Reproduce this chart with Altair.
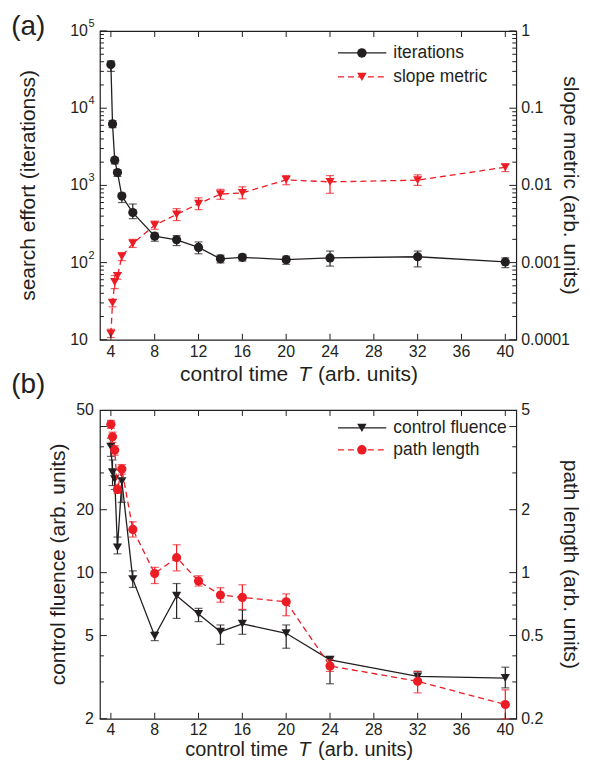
import altair as alt
import pandas as pd

FONT = "Liberation Sans"
INK = "#231f20"
RED = "#ec1c24"
W, H = 418, 310

# ---------------- data ----------------
T = [4, 4.15, 4.35, 4.6, 5, 6, 8, 10, 12, 14, 16, 20, 24, 32, 40]

# panel (a)
iterations = [36800, 6250, 2120, 1470, 728, 444, 220, 197, 157, 112, 117, 109, 115, 119, 102]
iterations_lo = [30000, 5600, 1900, 1306, 600, 371, 189, 166, 130, 99, 105, 95, 90, 88, 86]
iterations_hi = [41000, 6900, 2300, 1580, 790, 574, 242, 224, 185, 125, 128, 121, 141, 141, 115]

slope = [1.2e-4, 3.0e-4, 5.6e-4, 6.7e-4, 1.2e-3, 1.77e-3, 3.05e-3, 4.2e-3, 5.8e-3, 7.7e-3, 8.0e-3,
         0.0118, 0.0111, 0.0117, 0.0172]
slope_lo = [1.07e-4, 2.67e-4, 4.6e-4, 6.1e-4, 1.06e-3, 1.57e-3, 2.7e-3, 3.5e-3, 4.85e-3, 6.6e-3, 6.7e-3,
            0.0102, 0.0079, 0.0100, 0.0151]
slope_hi = [1.37e-4, 3.35e-4, 6.8e-4, 7.4e-4, 1.35e-3, 2.0e-3, 3.45e-3, 5.0e-3, 6.9e-3, 8.9e-3, 9.6e-3,
            0.0134, 0.0134, 0.0137, 0.0188]

# panel (b)
fluence = [40, 30.2, 28, 13.2, 27.4, 9.31, 4.98, 7.75, 6.34, 5.22, 5.69, 5.13, 3.83, 3.19, 3.13]
fluence_lo = [36, 26.1, 25, 12.3, 21.7, 8.5, 4.73, 6.04, 5.83, 4.54, 5.07, 4.35, 2.94, 3.07, 2.81]
fluence_hi = [44, 34.6, 31, 14.8, 31, 10.2, 5.2, 8.87, 6.75, 5.62, 6.62, 5.62, 3.97, 3.37, 3.53]

path = [5.13, 4.47, 3.86, 2.50, 3.13, 1.61, 0.99, 1.18, 0.911, 0.782, 0.761, 0.726, 0.358, 0.302, 0.234]
path_lo = [4.9, 4.2, 3.65, 2.4, 2.96, 1.48, 0.887, 1.02, 0.863, 0.722, 0.667, 0.622, 0.337, 0.266, 0.2]
path_hi = [5.35, 4.7, 4.05, 2.6, 3.29, 1.75, 1.06, 1.36, 0.966, 0.847, 0.875, 0.791, 0.383, 0.337, 0.275]

# axes
X_DOMAIN = [3, 41]
X_TICKS = [4, 8, 12, 16, 20, 24, 28, 32, 36, 40]
X_LABELS = ["4", "8", "12", "16", "20", "24", "28", "32", "36", "40"]

A_LEFT_DOMAIN = [10, 100000]
A_LEFT_MAJOR = [10, 100, 1000, 10000, 100000]
A_LEFT_LABELS = ["10", "10", "10", "10", "10"]
A_LEFT_EXPONENTS = ["", "2", "3", "4", "5"]
A_LEFT_MINOR = [20, 30, 40, 50, 60, 70, 80, 90, 200, 300, 400, 500, 600, 700, 800, 900,
                2000, 3000, 4000, 5000, 6000, 7000, 8000, 9000,
                20000, 30000, 40000, 50000, 60000, 70000, 80000, 90000]

A_RIGHT_DOMAIN = [0.0001, 1]
A_RIGHT_MAJOR = [0.0001, 0.001, 0.01, 0.1, 1]
A_RIGHT_LABELS = ["0.0001", "0.001", "0.01", "0.1", "1"]
A_RIGHT_MINOR = [0.0002, 0.0003, 0.0004, 0.0005, 0.0006, 0.0007, 0.0008, 0.0009,
                 0.002, 0.003, 0.004, 0.005, 0.006, 0.007, 0.008, 0.009,
                 0.02, 0.03, 0.04, 0.05, 0.06, 0.07, 0.08, 0.09,
                 0.2, 0.3, 0.4, 0.5, 0.6, 0.7, 0.8, 0.9]

B_LEFT_DOMAIN = [2, 60]
B_LEFT_MAJOR = [2, 5, 10, 20, 50]
B_LEFT_LABELS = ["2", "5", "10", "20", "50"]
B_LEFT_MINOR = [3, 4, 6, 7, 8, 9, 30, 40]

B_RIGHT_DOMAIN = [0.2, 6]
B_RIGHT_MAJOR = [0.2, 0.5, 1, 2, 5]
B_RIGHT_LABELS = ["0.2", "0.5", "1", "2", "5"]
B_RIGHT_MINOR = [0.3, 0.4, 0.6, 0.7, 0.8, 0.9, 3, 4]

xscale = alt.Scale(domain=X_DOMAIN, nice=False, zero=False)
XN = alt.X("T:Q", scale=xscale, axis=None)


def series_group(v, lo, hi, color, shape, dashed, domain, major, labels, minor, side,
                 raised=None, exponents=None):
    df = pd.DataFrame({"T": T, "v": v, "lo": lo, "hi": hi})
    ys = alt.Scale(type="log", domain=domain, nice=False)
    Y = lambda f: alt.Y(f, scale=ys, axis=None)
    base = alt.Chart(df)
    rule = base.mark_rule(color=color, strokeWidth=1.2).encode(x=XN, y=Y("lo:Q"), y2="hi:Q")
    cap_lo = base.mark_tick(orient="horizontal", size=8, thickness=1.2, color=color).encode(
        x=XN, y=Y("lo:Q"))
    cap_hi = base.mark_tick(orient="horizontal", size=8, thickness=1.2, color=color).encode(
        x=XN, y=Y("hi:Q"))
    line_kw = dict(color=color, strokeWidth=1.3)
    if dashed:
        line_kw["strokeDash"] = [6, 4]
    line = base.mark_line(**line_kw).encode(x=XN, y=Y("v:Q"))
    pts = base.mark_point(filled=True, shape=shape, size=85, color=color, opacity=1).encode(
        x=XN, y=Y("v:Q"))
    x0 = 0 if side == "left" else W
    d = 1 if side == "left" else -1
    maj = alt.Chart(pd.DataFrame({"v": major})).mark_rule(color=INK, strokeWidth=1).encode(
        y=Y("v:Q"), x=alt.value(x0), x2=alt.value(x0 + d * 7))
    mnr = alt.Chart(pd.DataFrame({"v": minor})).mark_rule(color=INK, strokeWidth=1).encode(
        y=Y("v:Q"), x=alt.value(x0), x2=alt.value(x0 + d * 4))
    layers = [rule, cap_lo, cap_hi, line, pts, maj, mnr]
    # tick labels
    lab_df = pd.DataFrame({"v": major, "lab": labels,
                           "ex": exponents if exponents is not None else [""] * len(major)})
    lab_kw = dict(font=FONT, fontSize=16, color=INK, baseline="middle",
                  align="right" if side == "left" else "left")
    if side == "left":
        lx = -12 if exponents is not None else -6
    else:
        lx = W + 5
    if raised is None:
        layers.append(alt.Chart(lab_df).mark_text(**lab_kw).encode(
            y=Y("v:Q"), x=alt.value(lx), text="lab:N"))
    else:
        layers.append(alt.Chart(lab_df).transform_filter(f"datum.v != {raised}").mark_text(
            **lab_kw).encode(y=Y("v:Q"), x=alt.value(lx), text="lab:N"))
        layers.append(alt.Chart(lab_df).transform_filter(f"datum.v == {raised}").mark_text(
            dy=-17, **lab_kw).encode(y=Y("v:Q"), x=alt.value(lx), text="lab:N"))
    if exponents is not None:
        layers.append(alt.Chart(lab_df).transform_filter("datum.ex != ''").mark_text(
            font=FONT, fontSize=11, color=INK, baseline="middle", align="left", dy=-7).encode(
            y=Y("v:Q"), x=alt.value(lx + 0.5), text="ex:N"))
    return alt.layer(*layers)


one = pd.DataFrame({"k": [0]})


def txt(text, x, y, size=21, angle=0, align="center", baseline="middle", style="normal"):
    kw = dict(text=text, font=FONT, fontSize=size, color=INK, align=align, baseline=baseline,
              fontStyle=style)
    if angle:
        kw["angle"] = angle
    return alt.Chart(one).mark_text(**kw).encode(x=alt.value(x), y=alt.value(y))


def decorations(panel_label, label_y, left_title, left_title_x, right_title, legend, xt_y, xt_base,
                xt_size=21, xlab_off=12.5):
    layers = []
    xt = pd.DataFrame({"T": X_TICKS, "lab": X_LABELS})
    layers.append(alt.Chart(xt).mark_rule(color=INK, strokeWidth=1).encode(
        x=XN, y=alt.value(H), y2=alt.value(H - 6)))
    layers.append(alt.Chart(xt).mark_rule(color=INK, strokeWidth=1).encode(
        x=XN, y=alt.value(0), y2=alt.value(6)))
    layers.append(alt.Chart(xt).mark_text(font=FONT, fontSize=16, color=INK, baseline="middle").encode(
        x=XN, y=alt.value(H + xlab_off), text="lab:N"))
    # axis titles
    layers.append(txt("control time", 189, xt_y, size=xt_size, align="right", baseline=xt_base))
    layers.append(txt("T", 199, xt_y, size=xt_size, align="left", baseline=xt_base, style="italic"))
    layers.append(txt("(arb. units)", 219, xt_y, size=xt_size, align="left", baseline=xt_base))
    layers.append(txt(left_title, left_title_x, H / 2, angle=270))
    layers.append(txt(right_title, 472, H / 2, angle=90))
    layers.append(txt(panel_label, -89, label_y, size=28, align="left", baseline="alphabetic"))
    # legend
    for (row_y, color, shape, dashed, label) in legend:
        kw = dict(color=color, strokeWidth=1.4)
        if dashed:
            kw["strokeDash"] = [6, 4]
        layers.append(alt.Chart(one).mark_rule(**kw).encode(
            x=alt.value(239), x2=alt.value(287.5), y=alt.value(row_y)))
        layers.append(alt.Chart(one).mark_point(filled=True, shape=shape, size=90, color=color,
                                                opacity=1).encode(x=alt.value(263), y=alt.value(row_y)))
        layers.append(txt(label, 294.5, row_y, size=17.5, align="left"))
    return layers


ga_left = series_group(iterations, iterations_lo, iterations_hi, INK, "circle", False, A_LEFT_DOMAIN,
                       A_LEFT_MAJOR, A_LEFT_LABELS, A_LEFT_MINOR, "left", exponents=A_LEFT_EXPONENTS)
ga_right = series_group(slope, slope_lo, slope_hi, RED, "triangle-down", True, A_RIGHT_DOMAIN,
                        A_RIGHT_MAJOR, A_RIGHT_LABELS, A_RIGHT_MINOR, "right")
panel_a = alt.layer(
    ga_left, ga_right,
    *decorations("(a)", 4, "search effort (iterationss)", -71, "slope metric (arb. units)",
                 [(22, INK, "circle", False, "iterations"),
                  (46, RED, "triangle-down", True, "slope metric")],
                 351.5, "alphabetic")
).resolve_scale(y="independent").properties(width=W, height=H)

gb_left = series_group(fluence, fluence_lo, fluence_hi, INK, "triangle-down", False, B_LEFT_DOMAIN,
                       B_LEFT_MAJOR, B_LEFT_LABELS, B_LEFT_MINOR, "left", raised=50)
gb_right = series_group(path, path_lo, path_hi, RED, "circle", True, B_RIGHT_DOMAIN,
                        B_RIGHT_MAJOR, B_RIGHT_LABELS, B_RIGHT_MINOR, "right", raised=5)
panel_b = alt.layer(
    gb_left, gb_right,
    *decorations("(b)", -17.5, "control fluence (arb. units)", -41.5, "path length (arb. units)",
                 [(18, INK, "triangle-down", False, "control fluence"),
                  (40, RED, "circle", True, "path length")],
                 351.5, "bottom", xt_size=20, xlab_off=11)
).resolve_scale(y="independent").properties(width=W, height=H)

chart = alt.vconcat(panel_a, panel_b, spacing=70.5, bounds="flush").resolve_scale(
    x="independent", y="independent"
).properties(
    padding={"left": 2.3, "top": 2.6, "right": 0, "bottom": -1},
    background="white",
).configure_view(stroke=INK, strokeWidth=1.2)

chart.save("out.html", embed_options={"renderer": "svg", "actions": False})
